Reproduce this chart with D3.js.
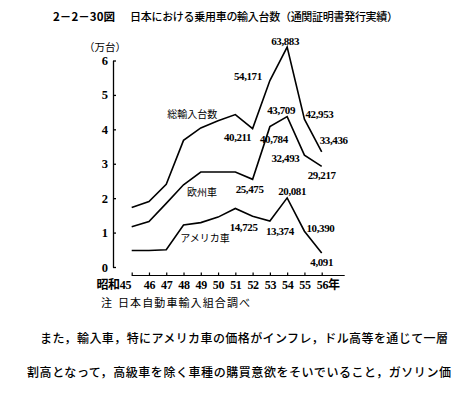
<!DOCTYPE html>
<html>
<head>
<meta charset="utf-8">
<script src="https://cdn.jsdelivr.net/npm/d3@7"></script>
<style>
  body { margin: 0; background: #fff; }
  svg { display: block; }
  .num { font-family: "Liberation Serif", serif; font-weight: bold; font-size: 11px; letter-spacing: -0.4px; }
  .jp { font-family: "Noto Sans CJK JP", sans-serif; }
</style>
</head>
<body>
<div id="chart"></div>
<script>
// data (unit: 万台)
var years = [45, 46, 47, 48, 49, 50, 51, 52, 53, 54, 55, 56];
var totalVals   = [1.73, 1.90, 2.40, 3.68, 4.04, 4.25, 4.43, 4.0211, 5.4171, 6.3883, 4.2953, 3.3436];
var europeVals  = [1.17, 1.32, 1.85, 2.39, 2.76, 2.76, 2.76, 2.5475, 4.0784, 4.3709, 3.2493, 2.9217];
var americaVals = [0.48, 0.48, 0.50, 1.22, 1.29, 1.45, 1.70, 1.4725, 1.3374, 2.0081, 1.0390, 0.4091];
var labelYears = [52, 53, 54, 55, 56];
var totalLabels   = ["40,211", "54,171", "63,883", "42,953", "33,436"];
var europeLabels  = ["25,475", "40,784", "43,709", "32,493", "29,217"];
var americaLabels = ["14,725", "13,374", "20,081", "10,390", "4,091"];
var yTicks = [0, 1, 2, 3, 4, 5, 6];

// label offsets (px) from the point they describe
var totalOff   = [[-15, 9], [-22, -4], [-2, -6], [15, -5], [12, -12]];
var europeOff  = [[-3, 10], [4, 13], [-6, -6], [-19, 2.5], [0, 8.5]];
var americaOff = [[-9, 11], [10, 10], [5, -7], [16, -3], [0, 9]];

var svgWidth = 468, svgHeight = 396;

var svg = d3.select("#chart").append("svg")
  .attr("width", svgWidth)
  .attr("height", svgHeight);

var x = d3.scaleLinear().domain([45, 56]).range([131.7, 321.7]);
var y = d3.scaleLinear().domain([0, 6]).range([267, 60.5]);

// title
svg.append("text")
  .attr("class", "jp")
  .attr("x", 53).attr("y", 21)
  .attr("font-size", 11.5)
  .attr("font-weight", "bold")
  .attr("textLength", 62)
  .text("2－2－30図");
svg.append("text")
  .attr("class", "jp")
  .attr("x", 130).attr("y", 21)
  .attr("font-size", 11)
  .attr("font-weight", 500)
  .attr("textLength", 268)
  .text("日本における乗用車の輸入台数（通関証明書発行実績）");

// unit
svg.append("text")
  .attr("class", "jp")
  .attr("x", 84).attr("y", 50.5)
  .attr("font-size", 10.5)
  .text("（万台）");

// y axis, ticks inward
var leftAxis = d3.axisLeft(y).tickValues(yTicks).tickSizeInner(-3).tickSizeOuter(0).tickPadding(5)
  .tickFormat(d3.format("d"));
var yG = svg.append("g")
  .attr("transform", "translate(113,0)")
  .call(leftAxis);
yG.select(".domain").attr("stroke-width", 1.3);
yG.selectAll("line").attr("stroke-width", 1.3);
yG.selectAll("text")
  .attr("font-family", "Liberation Serif, serif")
  .attr("font-weight", "bold")
  .attr("font-size", 12.5);

// x axis, separate line below
var bottomAxis = d3.axisBottom(x).tickValues(years).tickSizeInner(-3).tickSizeOuter(0).tickPadding(5)
  .tickFormat(function(d) {
    if (d === 45) return "昭和45";
    if (d === 56) return "56年";
    return d;
  });
var xG = svg.append("g")
  .attr("transform", "translate(0,275.5)")
  .call(bottomAxis);
xG.select(".domain").attr("d", "M" + x(45) + ",0H" + (x(56) + 23)).attr("stroke-width", 1.2);
xG.selectAll("line").attr("stroke-width", 1.2);
xG.selectAll("text")
  .attr("font-family", "Liberation Serif, 'Noto Sans CJK JP', serif")
  .attr("font-weight", "bold")
  .attr("font-size", 12)
  .attr("letter-spacing", -0.3);
xG.selectAll(".tick text").filter(function(d) { return d === 45; })
  .attr("text-anchor", "end").attr("x", -1);
xG.selectAll(".tick text").filter(function(d) { return d === 56; })
  .attr("text-anchor", "start").attr("x", -5.5);

// lines
var line = d3.line()
  .x(function(d, i) { return x(years[i]); })
  .y(function(d) { return y(d); });

[totalVals, europeVals, americaVals].forEach(function(vals) {
  svg.append("path")
    .datum(vals)
    .attr("fill", "none")
    .attr("stroke", "#000")
    .attr("stroke-width", 1.6)
    .attr("stroke-linejoin", "miter")
    .attr("d", line);
});

// value labels
function addLabels(vals, labels, offs) {
  svg.selectAll(null)
    .data(labels)
    .enter()
    .append("text")
    .attr("class", "num")
    .attr("text-anchor", "middle")
    .attr("dy", "0.35em")
    .attr("x", function(d, i) { return x(labelYears[i]) + offs[i][0]; })
    .attr("y", function(d, i) { return y(vals[years.indexOf(labelYears[i])]) + offs[i][1]; })
    .text(function(d) { return d; });
}
addLabels(totalVals, totalLabels, totalOff);
addLabels(europeVals, europeLabels, europeOff);
addLabels(americaVals, americaLabels, americaOff);

// series names
var names = [["総輸入台数", 48.5, 4.42], ["欧州車", 49.07, 2.16], ["アメリカ車", 49.25, 0.83]];
names.forEach(function(n) {
  svg.append("text")
    .attr("class", "jp")
    .attr("x", x(n[1])).attr("y", y(n[2]))
    .attr("dy", "0.35em")
    .attr("text-anchor", "middle")
    .attr("font-size", 10)
    .text(n[0]);
});

// source note
svg.append("text")
  .attr("class", "jp")
  .attr("x", 101).attr("y", 307)
  .attr("font-size", 11)
  .text("注");
svg.append("text")
  .attr("class", "jp")
  .attr("x", 118).attr("y", 307)
  .attr("font-size", 11)
  .attr("textLength", 132)
  .text("日本自動車輸入組合調べ");

// body text
svg.append("text")
  .attr("class", "jp")
  .attr("x", 40).attr("y", 343)
  .attr("font-size", 12)
  .attr("font-weight", 500)
  .attr("textLength", 408)
  .text("また，輸入車，特にアメリカ車の価格がインフレ，ドル高等を通じて一層");
svg.append("text")
  .attr("class", "jp")
  .attr("x", 27).attr("y", 376.5)
  .attr("font-size", 12)
  .attr("font-weight", 500)
  .attr("textLength", 424)
  .text("割高となって，高級車を除く車種の購買意欲をそいでいること，ガソリン価");
</script>
</body>
</html>
